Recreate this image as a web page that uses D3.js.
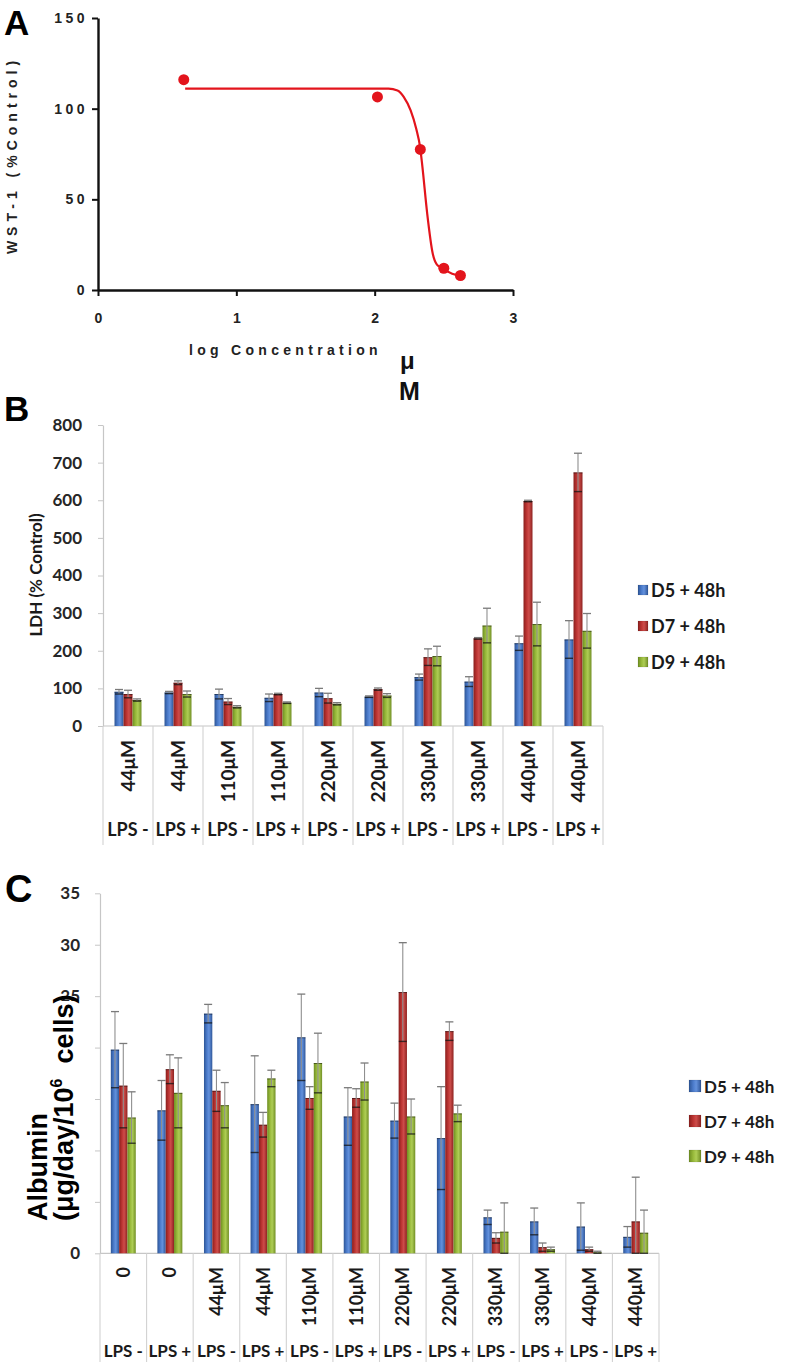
<!DOCTYPE html>
<html><head><meta charset="utf-8">
<script src="https://cdn.jsdelivr.net/npm/d3@7"></script>
<style>body{margin:0;background:#fff}</style>
</head><body>
<svg id="chart" width="789" height="1368"></svg>
<script>
// ---------- Panel A data ----------
const wstLogConc = [0.62, 2.02, 2.33, 2.50, 2.62];
const wstValues  = [116, 106.5, 77.5, 12, 8];
const fitLogConc = [0.63, 2.10, 2.165, 2.21, 2.26, 2.30, 2.33, 2.345, 2.38, 2.42, 2.45, 2.50, 2.56, 2.62];
const fitValues  = [111, 111, 110, 106.5, 99, 89, 78, 68, 42, 20, 14, 11.5, 9, 8];
const aXTicks = [0, 1, 2, 3];
const aYTicks = [0, 50, 100, 150];

// ---------- Panel B data ----------
const seriesNames = ["D5 + 48h", "D7 + 48h", "D9 + 48h"];
const ldhConc = ["44μM","44μM","110μM","110μM","220μM","220μM","330μM","330μM","440μM","440μM"];
const ldhLps  = ["LPS -","LPS +","LPS -","LPS +","LPS -","LPS +","LPS -","LPS +","LPS -","LPS +"];
const ldhD5    = [91, 89, 85, 75, 89, 78, 130, 118, 220, 230];
const ldhD5Err = [6, 3, 13, 10, 11, 2, 8, 13, 19, 50];
const ldhD7    = [85, 115, 65, 85, 74, 98, 183, 233, 598, 674];
const ldhD7Err = [10, 5, 8, 2, 13, 3, 22, 2, 2, 51];
const ldhD9    = [69, 85, 51, 62, 59, 81, 186, 267, 271, 253];
const ldhD9Err = [3, 8, 3, 2, 3, 5, 26, 46, 58, 46];
const ldhTicks = [0, 100, 200, 300, 400, 500, 600, 700, 800];

// ---------- Panel C data ----------
const albConc = ["0","0","44μM","44μM","110μM","110μM","220μM","220μM","330μM","330μM","440μM","440μM"];
const albLps  = ["LPS -","LPS +","LPS -","LPS +","LPS -","LPS +","LPS -","LPS +","LPS -","LPS +","LPS -","LPS +"];
const albD5    = [19.8, 13.9, 23.3, 14.5, 21.0, 13.3, 12.9, 11.2, 3.5, 3.1, 2.6, 1.6];
const albD5Err = [3.7, 2.9, 0.9, 4.7, 4.2, 2.8, 1.7, 5.0, 0.7, 1.3, 2.3, 1.0];
const albD7    = [16.3, 17.9, 15.8, 12.5, 15.1, 15.1, 25.4, 21.6, 1.5, 0.6, 0.4, 3.1];
const albD7Err = [4.1, 1.4, 2.0, 1.2, 1.1, 0.9, 4.8, 0.9, 0.5, 0.4, 0.2, 4.3];
const albD9    = [13.2, 15.6, 14.4, 17.0, 18.5, 16.7, 13.3, 13.6, 2.1, 0.4, 0.1, 2.0];
const albD9Err = [2.5, 3.4, 2.2, 0.8, 2.9, 1.8, 1.7, 0.8, 2.8, 0.2, 0.1, 2.2];
const albTicks = [0, 5, 10, 15, 20, 25, 30, 35];

// ---------- setup ----------
const svg = d3.select("#chart");
const defs = svg.append("defs");
const gradSets = [
  {id: "gBlue",  stops: ["#2d5596", "#4b7bcb", "#6391dc", "#2f5699"]},
  {id: "gRed",   stops: ["#8a1f1d", "#bd3533", "#cd4d4a", "#8e2220"]},
  {id: "gGreen", stops: ["#6e8e22", "#98ba3b", "#aecd55", "#718f25"]}
];
gradSets.forEach(c => {
  const g = defs.append("linearGradient").attr("id", c.id)
    .attr("x1", "0").attr("x2", "1").attr("y1", "0").attr("y2", "0");
  [0, 0.35, 0.6, 1].forEach((o, i) => g.append("stop").attr("offset", o).attr("stop-color", c.stops[i]));
});
const fills = gradSets.map(c => `url(#${c.id})`);
const ARIAL = "'Liberation Sans', Arial, sans-serif";
const LATO = "Lato, 'Open Sans', sans-serif";

// ---------- Panel A ----------
const ax = d3.scaleLinear().domain([0, 3]).range([98, 513]);
const ay = d3.scaleLinear().domain([0, 150]).range([290, 18]);
const gA = svg.append("g");

gA.append("g").attr("transform", "translate(0,290)")
  .call(d3.axisBottom(ax).tickValues(aXTicks).tickSize(6).tickSizeOuter(0).tickPadding(17).tickFormat(d3.format("d")))
  .call(g => {
    g.select(".domain").attr("stroke", "#111").attr("stroke-width", 2.4);
    g.selectAll(".tick line").attr("stroke", "#111").attr("stroke-width", 2);
    g.selectAll("text").attr("font-family", ARIAL).attr("font-weight", "bold")
      .attr("font-size", 14).attr("fill", "#222");
  });
gA.append("g").attr("transform", "translate(98,0)")
  .call(d3.axisLeft(ay).tickValues(aYTicks).tickSize(6).tickSizeOuter(0).tickPadding(4))
  .call(g => {
    g.select(".domain").attr("stroke", "#111").attr("stroke-width", 2.4);
    g.selectAll(".tick line").attr("stroke", "#111").attr("stroke-width", 2);
    g.selectAll("text").attr("font-family", ARIAL).attr("font-weight", "bold")
      .attr("font-size", 14).attr("fill", "#222").attr("letter-spacing", 3.5);
  });

const fitPts = fitLogConc.map((d, i) => [d, fitValues[i]]);
gA.append("path").datum(fitPts)
  .attr("d", d3.line().x(d => ax(d[0])).y(d => ay(d[1])).curve(d3.curveMonotoneX))
  .attr("fill", "none").attr("stroke", "#e3141c").attr("stroke-width", 2.2);
gA.selectAll("circle.pt").data(wstLogConc.map((d, i) => [d, wstValues[i]])).join("circle")
  .attr("cx", d => ax(d[0])).attr("cy", d => ay(d[1])).attr("r", 5.5).attr("fill", "#e3141c");

gA.append("text").attr("x", 189).attr("y", 355).text("log Concentration")
  .attr("font-family", ARIAL).attr("font-weight", "bold").attr("font-size", 14)
  .attr("letter-spacing", 4.3).attr("fill", "#222");
gA.append("text").attr("x", 400).attr("y", 369).text("μ")
  .attr("font-family", ARIAL).attr("font-weight", "bold").attr("font-size", 24).attr("fill", "#111");
gA.append("text").attr("x", 399).attr("y", 400).text("M")
  .attr("font-family", ARIAL).attr("font-weight", "bold").attr("font-size", 25).attr("fill", "#111");
gA.append("text").attr("transform", "translate(17,155) rotate(-90)").attr("text-anchor", "middle")
  .text("WST-1 (%Control)")
  .attr("font-family", ARIAL).attr("font-weight", "bold").attr("font-size", 14)
  .attr("letter-spacing", 5).attr("fill", "#222");
svg.append("text").attr("x", 4).attr("y", 35).text("A")
  .attr("font-family", ARIAL).attr("font-weight", "bold").attr("font-size", 35).attr("fill", "#000");

// ---------- grouped bar helper ----------
function groupedPanel(cfg) {
  const g = svg.append("g");
  const x = d3.scaleBand().domain(d3.range(cfg.conc.length)).range(cfg.xRange).paddingInner(0).paddingOuter(0);
  const inner = d3.scaleBand().domain([0, 1, 2]).range([0, x.bandwidth()]).paddingInner(0).paddingOuter(cfg.outerPad);
  const y = d3.scaleLinear().domain(cfg.yDomain).range(cfg.yRange);
  const base = y(0);

  g.append("g").attr("transform", `translate(${cfg.xRange[0]},0)`)
    .call(d3.axisLeft(y).tickValues(cfg.ticks).tickSize(5).tickSizeOuter(0).tickPadding(cfg.tickPad))
    .call(a => {
      a.select(".domain").attr("stroke", "#c6c6c6").attr("stroke-width", 1.2);
      a.selectAll(".tick line").attr("stroke", "#c6c6c6");
      a.selectAll("text").attr("font-family", LATO).attr("font-weight", "bold")
        .attr("font-size", cfg.tickFont).attr("fill", "#262626");
    });
  g.append("line").attr("x1", cfg.xRange[0]).attr("x2", cfg.xRange[1]).attr("y1", base).attr("y2", base)
    .attr("stroke", "#c6c6c6").attr("stroke-width", 1.2);
  g.selectAll("line.sep").data(d3.range(cfg.conc.length + 1)).join("line")
    .attr("x1", i => i < cfg.conc.length ? x(i) : cfg.xRange[1])
    .attr("x2", i => i < cfg.conc.length ? x(i) : cfg.xRange[1])
    .attr("y1", base).attr("y2", cfg.sepBottom).attr("stroke", "#d2d2d2").attr("stroke-width", 1.1);
  g.selectAll("text.conc").data(cfg.conc).join("text")
    .attr("transform", (d, i) => `translate(${x(i) + x.bandwidth() / 2},${cfg.concTop}) rotate(-90)`)
    .attr("text-anchor", "end").attr("dy", "0.36em").text(d => d)
    .attr("font-family", LATO).attr("font-weight", "bold").attr("font-size", cfg.concFont).attr("fill", "#1a1a1a");
  g.selectAll("text.lps").data(cfg.lps).join("text")
    .attr("x", (d, i) => x(i) + x.bandwidth() / 2).attr("y", cfg.lpsY)
    .attr("text-anchor", "middle").attr("dominant-baseline", "central").text(d => d)
    .attr("font-family", LATO).attr("font-weight", "bold").attr("font-size", cfg.lpsFont).attr("fill", "#1a1a1a");

  cfg.series.forEach((vals, s) => {
    const errs = cfg.errors[s];
    const gs = g.append("g");
    gs.selectAll("rect").data(vals).join("rect")
      .attr("x", (d, i) => x(i) + inner(s)).attr("width", inner.bandwidth())
      .attr("y", d => y(d)).attr("height", d => base - y(d))
      .attr("fill", fills[s]);
    gs.selectAll("line.top").data(vals).join("line")
      .attr("x1", (d, i) => x(i) + inner(s)).attr("x2", (d, i) => x(i) + inner(s) + inner.bandwidth())
      .attr("y1", d => y(d) + 0.5).attr("y2", d => y(d) + 0.5)
      .attr("stroke", "rgba(0,0,0,0.45)").attr("stroke-width", 1);
    const cx = i => x(i) + inner(s) + inner.bandwidth() / 2;
    const hw = cfg.capHalf;
    gs.selectAll("line.eb").data(vals).join("line")
      .attr("x1", (d, i) => cx(i)).attr("x2", (d, i) => cx(i))
      .attr("y1", (d, i) => y(d + errs[i])).attr("y2", (d, i) => y(Math.max(0, d - errs[i])))
      .attr("stroke", "#8f8f8f").attr("stroke-width", 1.1);
    gs.selectAll("line.capTop").data(vals).join("line")
      .attr("x1", (d, i) => cx(i) - hw).attr("x2", (d, i) => cx(i) + hw)
      .attr("y1", (d, i) => y(d + errs[i])).attr("y2", (d, i) => y(d + errs[i]))
      .attr("stroke", "#7a7a7a").attr("stroke-width", 1.3);
    gs.selectAll("line.capBot").data(vals).join("line")
      .attr("x1", (d, i) => cx(i) - hw).attr("x2", (d, i) => cx(i) + hw)
      .attr("y1", (d, i) => y(Math.max(0, d - errs[i]))).attr("y2", (d, i) => y(Math.max(0, d - errs[i])))
      .attr("stroke", "rgba(20,20,20,0.75)").attr("stroke-width", 1.4);
  });

  const lg = g.append("g");
  seriesNames.forEach((name, s) => {
    const cy = cfg.legend.y0 + s * cfg.legend.dy;
    lg.append("rect").attr("x", cfg.legend.x).attr("y", cy - cfg.legend.size / 2)
      .attr("width", cfg.legend.size).attr("height", cfg.legend.size).attr("fill", fills[s])
      .attr("stroke", "rgba(0,0,0,0.15)").attr("stroke-width", 0.6);
    lg.append("text").attr("x", cfg.legend.x + cfg.legend.size + 3).attr("y", cy)
      .attr("dominant-baseline", "central").text(name)
      .attr("font-family", LATO).attr("font-weight", "bold").attr("font-size", cfg.legend.font).attr("fill", "#1a1a1a");
  });
  return {g, x, y};
}

// ---------- Panel B ----------
groupedPanel({
  conc: ldhConc, lps: ldhLps,
  series: [ldhD5, ldhD7, ldhD9], errors: [ldhD5Err, ldhD7Err, ldhD9Err],
  xRange: [103, 603], yDomain: [0, 800], yRange: [726, 425], ticks: ldhTicks,
  outerPad: 1.28, tickPad: 16, tickFont: 17, capHalf: 4,
  sepBottom: 845, concTop: 740, concFont: 19, lpsY: 829, lpsFont: 18,
  legend: {x: 638, y0: 590, dy: 36, size: 10, font: 18}
});
svg.append("text").attr("transform", "translate(42,575) rotate(-90)").attr("text-anchor", "middle")
  .text("LDH (% Control)")
  .attr("font-family", LATO).attr("font-weight", "bold").attr("font-size", 17).attr("fill", "#1a1a1a");
svg.append("text").attr("x", 4).attr("y", 421).text("B")
  .attr("font-family", ARIAL).attr("font-weight", "bold").attr("font-size", 35).attr("fill", "#000");

// ---------- Panel C ----------
groupedPanel({
  conc: albConc, lps: albLps,
  series: [albD5, albD7, albD9], errors: [albD5Err, albD7Err, albD9Err],
  xRange: [100, 659], yDomain: [0, 35], yRange: [1253.3, 893.3], ticks: albTicks,
  outerPad: 1.3, tickPad: 15, tickFont: 17, capHalf: 4,
  sepBottom: 1362, concTop: 1267, concFont: 18, lpsY: 1350, lpsFont: 17,
  legend: {x: 689, y0: 1086, dy: 35, size: 12, font: 17}
});
svg.append("rect").attr("x", 22).attr("y", 1001).attr("width", 66).attr("height", 240).attr("fill", "#fff");
svg.append("text").attr("transform", "translate(47,1221) rotate(-90)")
  .text("Albumin")
  .attr("font-family", ARIAL).attr("font-weight", "bold").attr("font-size", 27).attr("fill", "#000");
const t2 = svg.append("text").attr("transform", "translate(73,1221) rotate(-90)")
  .attr("font-family", ARIAL).attr("font-weight", "bold").attr("font-size", 27).attr("fill", "#000");
t2.append("tspan").text("(μg/day/10");
t2.append("tspan").attr("font-size", 16).attr("dy", -11).text("6");
t2.append("tspan").attr("dy", 11).text("\u00a0\u00a0cells)");
svg.append("text").attr("x", 5).attr("y", 902).text("C")
  .attr("font-family", ARIAL).attr("font-weight", "bold").attr("font-size", 38).attr("fill", "#000");
</script>
</body></html>
